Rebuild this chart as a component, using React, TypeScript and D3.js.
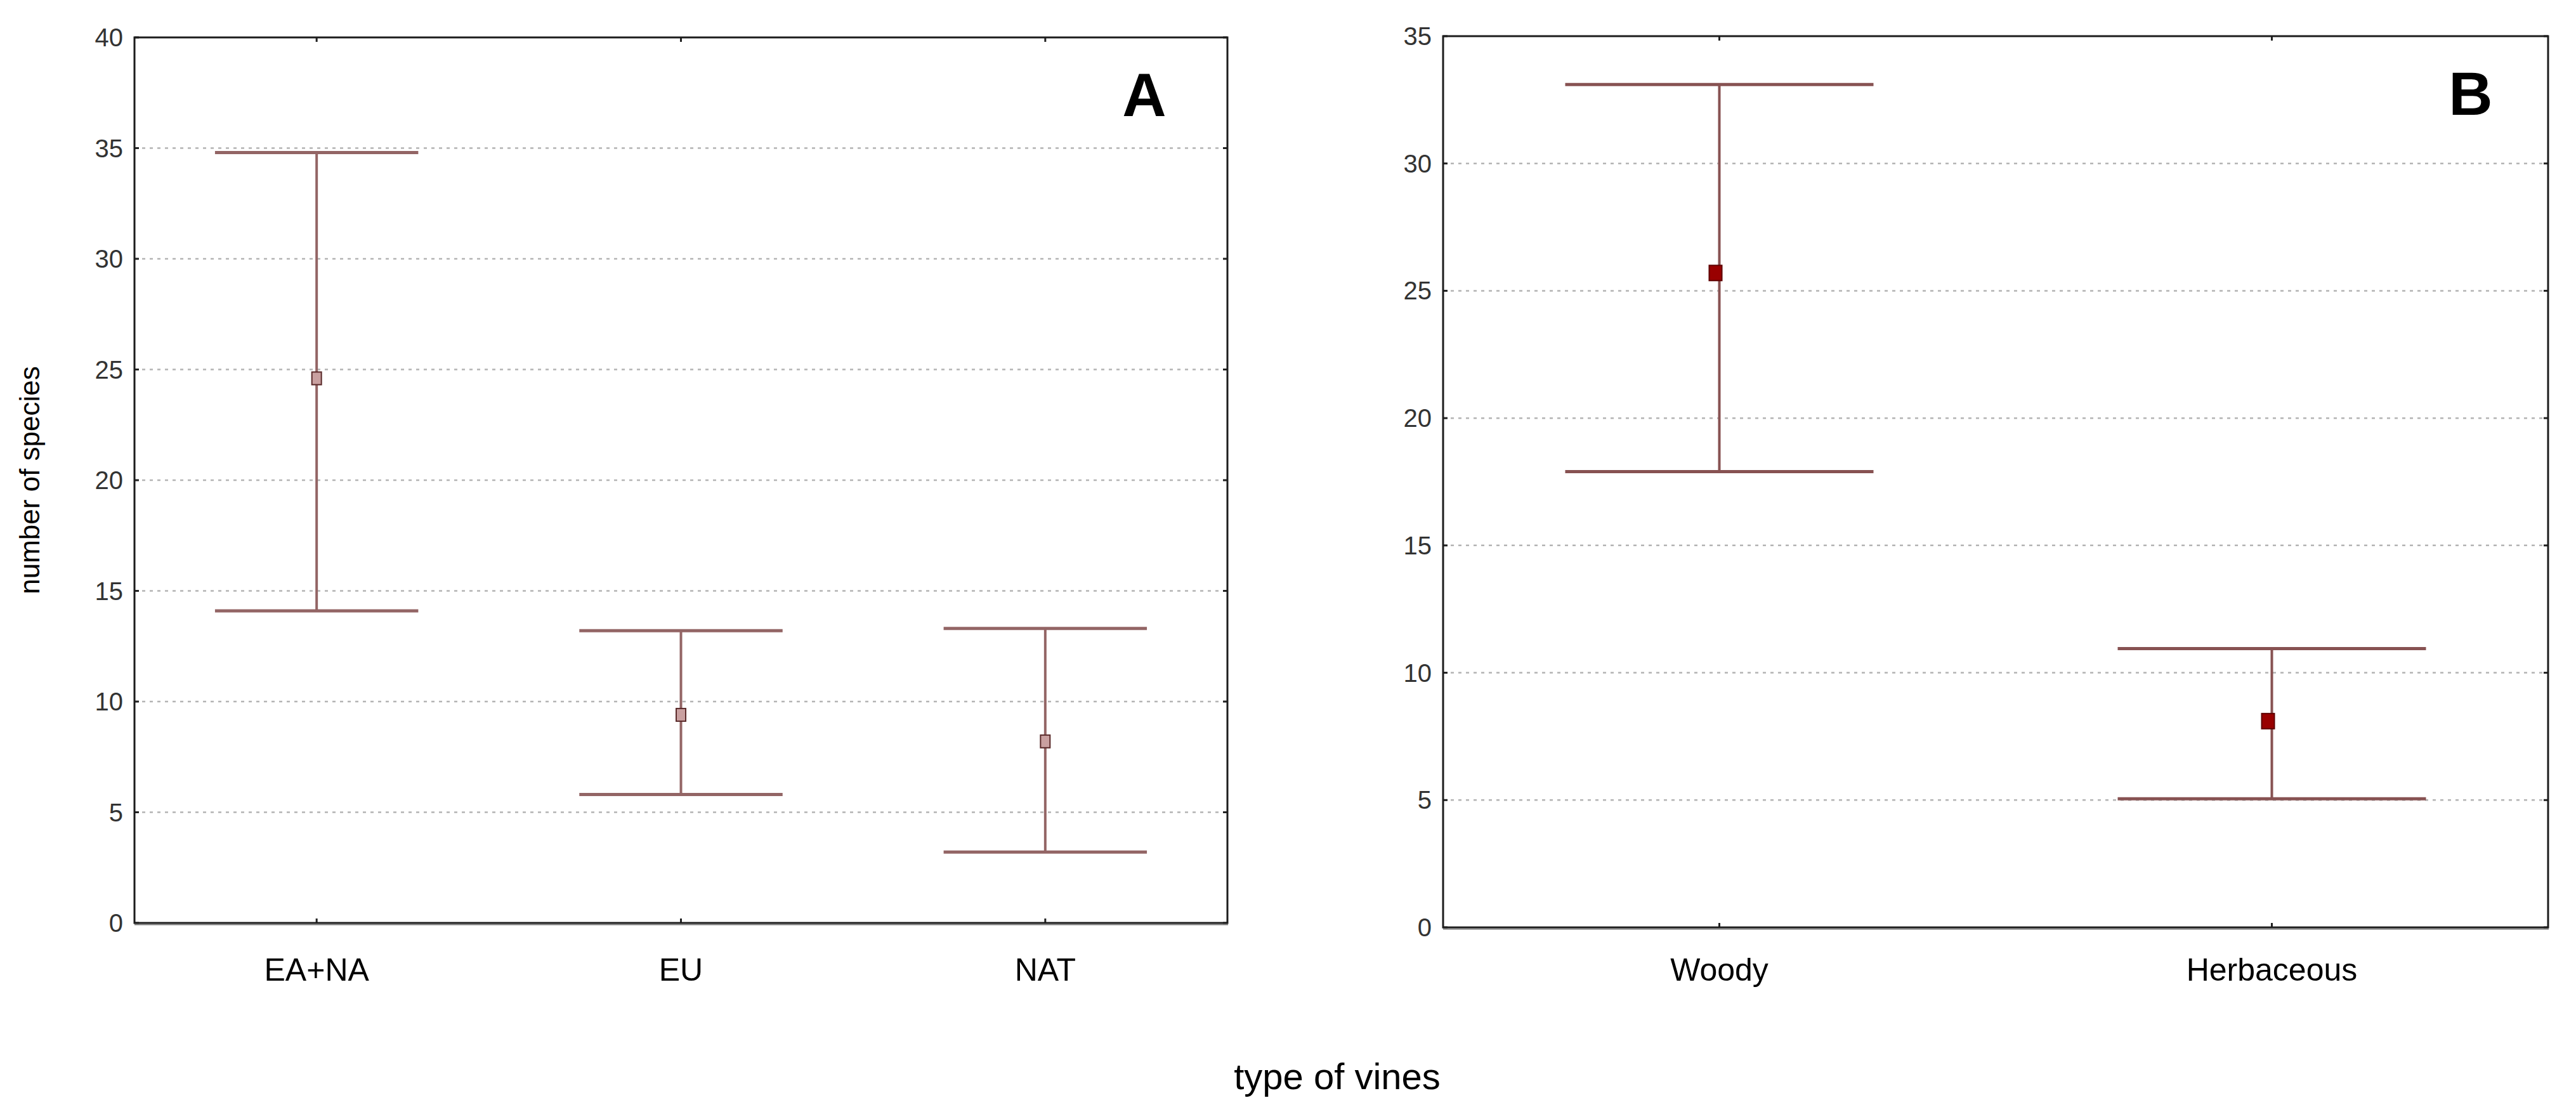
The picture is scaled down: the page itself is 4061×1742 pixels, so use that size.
import React from "react";
import * as d3 from "d3";

const catsA = ["EA+NA", "EU", "NAT"];
const meanA = [24.6, 9.4, 8.2];
const lowA = [14.1, 5.8, 3.2];
const highA = [34.8, 13.2, 13.3];
const ticksA = [0, 5, 10, 15, 20, 25, 30, 35, 40];

const catsB = ["Woody", "Herbaceous"];
const meanB = [25.7, 8.1];
const lowB = [17.9, 5.05];
const highB = [33.1, 10.95];
const ticksB = [0, 5, 10, 15, 20, 25, 30, 35];

const W = 4061;
const H = 1742;
const FONT = "'Liberation Sans', Arial, sans-serif";

type PanelProps = {
  cats: string[];
  mean: number[];
  low: number[];
  high: number[];
  ticks: number[];
  x0: number;
  x1: number;
  y0: number;
  y1: number;
  letter: string;
  letterX: number;
  barColor: string;
  markFill: string;
  markStroke: string;
  markW: number;
  markH: number;
  markDx: number;
};

function Panel(p: PanelProps) {
  const x = d3.scalePoint<string>().domain(p.cats).range([p.x0, p.x1]).padding(0.5);
  const yMax = p.ticks[p.ticks.length - 1];
  const y = d3.scaleLinear().domain([0, yMax]).range([p.y1, p.y0]);
  const capHalf = x.step() * 0.279;
  const tickLen = 7;
  return (
    <g>
      {p.ticks
        .filter((t) => t > 0 && t < yMax)
        .map((t) => (
          <line
            key={"g" + t}
            x1={p.x0}
            x2={p.x1}
            y1={y(t)}
            y2={y(t)}
            stroke="#b4b4b4"
            strokeWidth={2.5}
            strokeDasharray="5 7"
          />
        ))}
      {p.ticks.map((t) => (
        <g key={"t" + t}>
          <line x1={p.x0} x2={p.x0 + tickLen} y1={y(t)} y2={y(t)} stroke="#222" strokeWidth={3} />
          <line x1={p.x1} x2={p.x1 - tickLen} y1={y(t)} y2={y(t)} stroke="#222" strokeWidth={3} />
          <text
            x={p.x0 - 18}
            y={y(t)}
            textAnchor="end"
            dominantBaseline="central"
            fontFamily={FONT}
            fontSize={40}
            fill="#333"
          >
            {t}
          </text>
        </g>
      ))}
      {p.cats.map((c) => (
        <g key={"c" + c}>
          <line x1={x(c)} x2={x(c)} y1={p.y0} y2={p.y0 + tickLen} stroke="#222" strokeWidth={3} />
          <line x1={x(c)} x2={x(c)} y1={p.y1} y2={p.y1 - tickLen} stroke="#222" strokeWidth={3} />
          <text
            x={x(c)}
            y={1546}
            textAnchor="middle"
            fontFamily={FONT}
            fontSize={50}
            fill="#000"
          >
            {c}
          </text>
        </g>
      ))}
      {p.cats.map((c, i) => {
        const cx = x(c) as number;
        return (
          <g key={"e" + c}>
            <line x1={cx} x2={cx} y1={y(p.high[i])} y2={y(p.low[i])} stroke={p.barColor} strokeWidth={4} />
            <line x1={cx - capHalf} x2={cx + capHalf} y1={y(p.high[i])} y2={y(p.high[i])} stroke={p.barColor} strokeWidth={5} />
            <line x1={cx - capHalf} x2={cx + capHalf} y1={y(p.low[i])} y2={y(p.low[i])} stroke={p.barColor} strokeWidth={5} />
            <rect
              x={cx + p.markDx - p.markW / 2}
              y={y(p.mean[i]) - p.markH / 2}
              width={p.markW}
              height={p.markH}
              fill={p.markFill}
              stroke={p.markStroke}
              strokeWidth={2}
            />
          </g>
        );
      })}
      <rect
        x={p.x0}
        y={p.y0}
        width={p.x1 - p.x0}
        height={p.y1 - p.y0}
        fill="none"
        stroke="#1c1c1c"
        strokeWidth={3}
      />
      <line x1={p.x0} x2={p.x1 + 1} y1={p.y1 + 2.5} y2={p.y1 + 2.5} stroke="#777" strokeWidth={2} />
      <text
        x={p.letterX}
        y={p.y0 + 124}
        textAnchor="middle"
        fontFamily={FONT}
        fontWeight="bold"
        fontSize={96}
        fill="#000"
      >
        {p.letter}
      </text>
    </g>
  );
}

export default function App() {
  return (
    <div style={{ position: "absolute", left: 0, top: 0, width: W, height: H, background: "#fff" }}>
      <svg width={W} height={H} viewBox={`0 0 ${W} ${H}`} style={{ display: "block" }}>
        <rect x={0} y={0} width={W} height={H} fill="#fff" />
        <Panel
          cats={catsA}
          mean={meanA}
          low={lowA}
          high={highA}
          ticks={ticksA}
          x0={212}
          x1={1935}
          y0={59}
          y1={1455}
          letter="A"
          letterX={1804}
          barColor="#936565"
          markFill="#c9a0a0"
          markStroke="#5a2a2a"
          markW={15}
          markH={20}
          markDx={0}
        />
        <Panel
          cats={catsB}
          mean={meanB}
          low={lowB}
          high={highB}
          ticks={ticksB}
          x0={2275}
          x1={4017}
          y0={57}
          y1={1462}
          letter="B"
          letterX={3895}
          barColor="#875252"
          markFill="#990000"
          markStroke="#5e0000"
          markW={20}
          markH={24}
          markDx={-6}
        />
        <text
          transform={`translate(62, 757) rotate(-90)`}
          textAnchor="middle"
          fontFamily={FONT}
          fontSize={44}
          fill="#000"
        >
          number of species
        </text>
        <text x={2108} y={1717} textAnchor="middle" fontFamily={FONT} fontSize={58} fill="#000">
          type of vines
        </text>
      </svg>
    </div>
  );
}
